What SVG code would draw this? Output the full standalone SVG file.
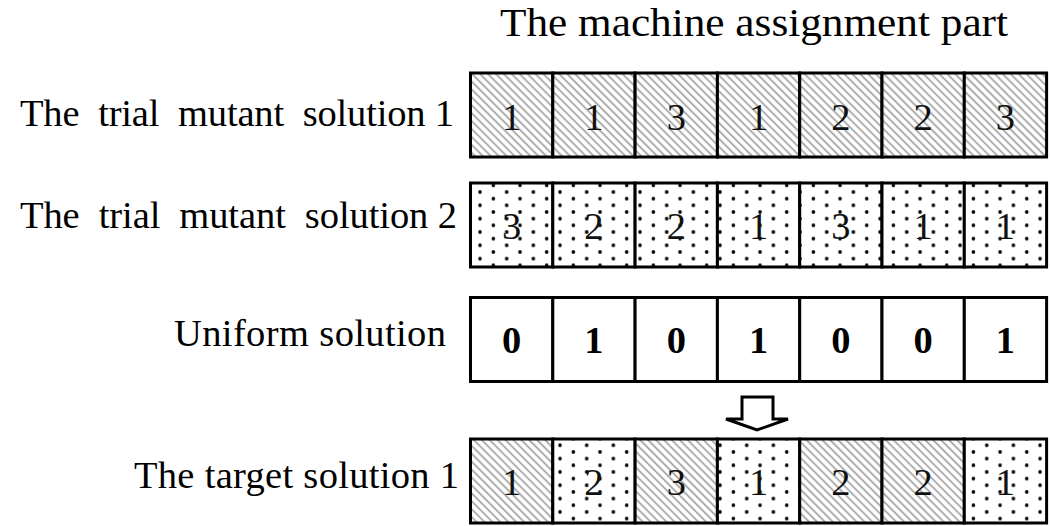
<svg xmlns="http://www.w3.org/2000/svg" width="1050" height="526" viewBox="0 0 1050 526">
<style>
.lbl{font-family:"Liberation Serif","Times New Roman",serif;font-size:38.5px;fill:#000}
.title{font-family:"Liberation Serif","Times New Roman",serif;font-size:40px;fill:#000}
.dig{font-family:"Liberation Serif","Times New Roman",serif;font-size:38.5px;fill:#111;text-anchor:middle}
.bd{font-family:"Liberation Serif","Times New Roman",serif;font-size:38.5px;font-weight:bold;fill:#000;text-anchor:middle}
.cell{stroke:#000;stroke-width:3}
.h{fill:url(#hatch)}
.d{fill:url(#dots)}
.w{fill:#fff}
</style>
<defs>
<pattern id="hatch" patternUnits="userSpaceOnUse" width="5.6" height="5.6" patternTransform="rotate(-45)">
<rect width="5.6" height="5.6" fill="#fff"/>
<line x1="1.5" y1="0" x2="1.5" y2="5.6" stroke="#9a9a9a" stroke-width="1.6"/>
</pattern>
<pattern id="dots" patternUnits="userSpaceOnUse" x="480" y="192" width="26.67" height="13.33">
<rect width="26.67" height="13.33" fill="#fff"/>
<circle cx="0" cy="0" r="1.8" fill="#000"/>
<circle cx="26.67" cy="0" r="1.8" fill="#000"/>
<circle cx="0" cy="13.33" r="1.8" fill="#000"/>
<circle cx="26.67" cy="13.33" r="1.8" fill="#000"/>
<circle cx="13.33" cy="6.67" r="1.8" fill="#000"/>
</pattern>
</defs>
<rect width="1050" height="526" fill="#fff"/>
<text class="title" x="500" y="36" textLength="508" lengthAdjust="spacingAndGlyphs">The machine assignment part</text>

<g id="row-trial1">
<text class="lbl" x="20" y="126" textLength="434" xml:space="preserve">The  trial  mutant  solution 1</text>
<g id="t1-c1"><rect class="cell h" x="470.5" y="73" width="82.3" height="84"/><text class="dig" x="511.65" y="130">1</text></g>
<g id="t1-c2"><rect class="cell h" x="552.8" y="73" width="82.3" height="84"/><text class="dig" x="593.95" y="130">1</text></g>
<g id="t1-c3"><rect class="cell h" x="635.1" y="73" width="82.3" height="84"/><text class="dig" x="676.25" y="130">3</text></g>
<g id="t1-c4"><rect class="cell h" x="717.4" y="73" width="82.3" height="84"/><text class="dig" x="758.55" y="130">1</text></g>
<g id="t1-c5"><rect class="cell h" x="799.7" y="73" width="82.3" height="84"/><text class="dig" x="840.85" y="130">2</text></g>
<g id="t1-c6"><rect class="cell h" x="882" y="73" width="82.3" height="84"/><text class="dig" x="923.15" y="130">2</text></g>
<g id="t1-c7"><rect class="cell h" x="964.3" y="73" width="82.3" height="84"/><text class="dig" x="1005.45" y="130">3</text></g>
</g>

<g id="row-trial2">
<text class="lbl" x="20" y="228" textLength="437" xml:space="preserve">The  trial  mutant  solution 2</text>
<g id="t2-c1"><rect class="cell d" x="470.5" y="183" width="82.3" height="84"/><text class="dig" x="511.65" y="239">3</text></g>
<g id="t2-c2"><rect class="cell d" x="552.8" y="183" width="82.3" height="84"/><text class="dig" x="593.95" y="239">2</text></g>
<g id="t2-c3"><rect class="cell d" x="635.1" y="183" width="82.3" height="84"/><text class="dig" x="676.25" y="239">2</text></g>
<g id="t2-c4"><rect class="cell d" x="717.4" y="183" width="82.3" height="84"/><text class="dig" x="758.55" y="239">1</text></g>
<g id="t2-c5"><rect class="cell d" x="799.7" y="183" width="82.3" height="84"/><text class="dig" x="840.85" y="239">3</text></g>
<g id="t2-c6"><rect class="cell d" x="882" y="183" width="82.3" height="84"/><text class="dig" x="923.15" y="239">1</text></g>
<g id="t2-c7"><rect class="cell d" x="964.3" y="183" width="82.3" height="84"/><text class="dig" x="1005.45" y="239">1</text></g>
</g>

<g id="row-uniform">
<text class="lbl" x="174" y="346" textLength="272">Uniform solution</text>
<g id="u-c1"><rect class="cell w" x="470.5" y="297.5" width="82.3" height="84"/><text class="bd" x="511.65" y="353">0</text></g>
<g id="u-c2"><rect class="cell w" x="552.8" y="297.5" width="82.3" height="84"/><text class="bd" x="593.95" y="353">1</text></g>
<g id="u-c3"><rect class="cell w" x="635.1" y="297.5" width="82.3" height="84"/><text class="bd" x="676.25" y="353">0</text></g>
<g id="u-c4"><rect class="cell w" x="717.4" y="297.5" width="82.3" height="84"/><text class="bd" x="758.55" y="353">1</text></g>
<g id="u-c5"><rect class="cell w" x="799.7" y="297.5" width="82.3" height="84"/><text class="bd" x="840.85" y="353">0</text></g>
<g id="u-c6"><rect class="cell w" x="882" y="297.5" width="82.3" height="84"/><text class="bd" x="923.15" y="353">0</text></g>
<g id="u-c7"><rect class="cell w" x="964.3" y="297.5" width="82.3" height="84"/><text class="bd" x="1005.45" y="353">1</text></g>
</g>

<g id="row-target">
<text class="lbl" x="134" y="488" textLength="325">The target solution 1</text>
<g id="tg-c1"><rect class="cell h" x="470.5" y="439" width="82.3" height="84"/><text class="dig" x="511.65" y="495">1</text></g>
<g id="tg-c2"><rect class="cell d" x="552.8" y="439" width="82.3" height="84"/><text class="dig" x="593.95" y="495">2</text></g>
<g id="tg-c3"><rect class="cell h" x="635.1" y="439" width="82.3" height="84"/><text class="dig" x="676.25" y="495">3</text></g>
<g id="tg-c4"><rect class="cell d" x="717.4" y="439" width="82.3" height="84"/><text class="dig" x="758.55" y="495">1</text></g>
<g id="tg-c5"><rect class="cell h" x="799.7" y="439" width="82.3" height="84"/><text class="dig" x="840.85" y="495">2</text></g>
<g id="tg-c6"><rect class="cell h" x="882" y="439" width="82.3" height="84"/><text class="dig" x="923.15" y="495">2</text></g>
<g id="tg-c7"><rect class="cell d" x="964.3" y="439" width="82.3" height="84"/><text class="dig" x="1005.45" y="495">1</text></g>
</g>

<g id="connectors">
<path d="M742,397 L773,397 L773,419 L788,419 L757,430 L726,419 L742,419 Z" fill="#fff" stroke="#000" stroke-width="3" stroke-linejoin="miter"/>
</g>
</svg>
